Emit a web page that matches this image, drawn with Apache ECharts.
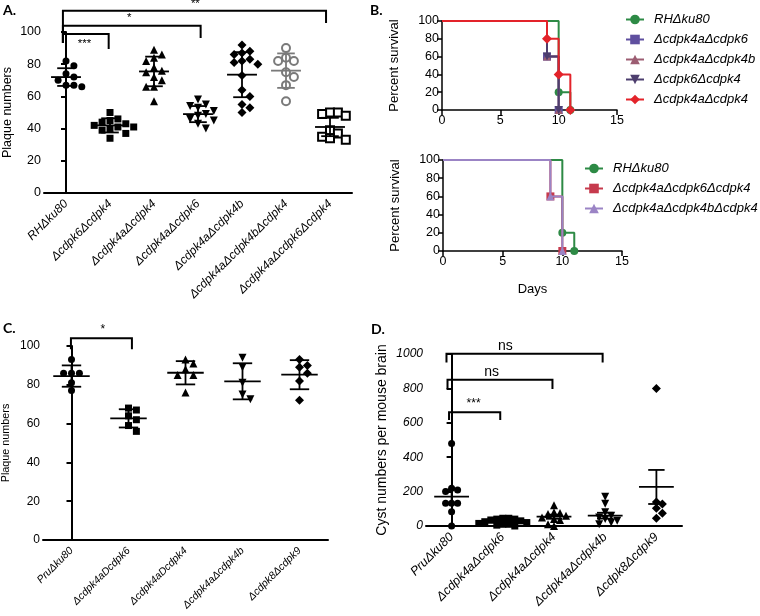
<!DOCTYPE html>
<html><head><meta charset="utf-8">
<script src="https://cdn.jsdelivr.net/npm/echarts@6/dist/echarts.min.js"></script>
<style>html,body{margin:0;padding:0;background:#fff}#c{width:760px;height:616px}</style>
</head><body><div id="c"></div>
<script>
// ---------- DATA ----------
// Panel A: plaque numbers
const catsA = ['RHΔku80','Δcdpk6Δcdpk4','Δcdpk4aΔcdpk4','Δcdpk4aΔcdpk6','Δcdpk4aΔcdpk4b','Δcdpk4aΔcdpk4bΔcdpk4','Δcdpk4aΔcdpk6Δcdpk4'];
const valsA = [
  [82,79,74,72,70,67,67,66],
  [50,46,45,44,43,42,41,41,40,39,37,34],
  [89,86,84,82,78,76,75,72,70,66,66,57],
  [58,55,54,53,51,49,48,46,45,43,40],
  [92,88,87,86,83,82,81,80,73,64,60,55,53,50],
  [90,84,82,82,75,72,67,57],
  [50,50,49,48,39,37,35,34,33]
];
const meanA = [72,42,75.5,49,73.5,76,41];
const errA  = [5.5,4.4,9.2,5,14,10.7,5.7];
// brackets: [x1, x2, top, leftLeg, rightLeg, label, labelX, labelY]
const bracketsA = [
  [-0.07,0.97,98.8,93.2,89.4,'***',0.42,92.6],
  [-0.07,3.06,103.9,93.2,96.3,'*',1.44,108.5],
  [-0.07,5.91,113.2,93.2,105.6,'**',2.94,117.6]
];

// Panel B: survival (days, percent)
const namesBt = ['RHΔku80','Δcdpk4aΔcdpk6','Δcdpk4aΔcdpk4b','Δcdpk6Δcdpk4','Δcdpk4aΔcdpk4'];
const survBt = [
  [[0,100],[10,20],[11,0]],
  [[0,100],[9,60],[10,0]],
  [[0,100],[9,60],[10,0]],
  [[0,100],[9,60],[10,0]],
  [[0,100],[9,80],[10,40],[11,0]]
];
const namesBb = ['RHΔku80','Δcdpk4aΔcdpk6Δcdpk4','Δcdpk4aΔcdpk4bΔcdpk4'];
const survBb = [
  [[0,100],[10,20],[11,0]],
  [[0,100],[9,60],[10,0]],
  [[0,100],[9,60],[10,0]]
];

// Panel C: plaque numbers
const catsC = ['PruΔku80','Δcdpk4aDcdpk6','Δcdpk4aDcdpk4','Δcdpk4aΔcdpk4b','Δcdpk8Δcdpk9'];
const valsC = [
  [93,86,86,86,81,77],
  [68,67,64,62,59,56],
  [93,91,88,85,85,76],
  [94,89,81,75,72.5],
  [93,90,89,86,82,72]
];
const meanC = [84.5,62.7,86.2,81.8,85.2];
const errC  = [5.5,4.7,6,9.3,7.5];
const bracketsC = [[-0.01,1.06,104,98.3,98.3,'*',0.55,108.6]];

// Panel D: cyst numbers per mouse brain
const catsD = ['PruΔku80','Δcdpk4aΔcdpk6','Δcdpk4aΔcdpk4','Δcdpk4aΔcdpk4b','Δcdpk8Δcdpk9'];
const valsD = [
  [480,219,210,200,132,132,132,83,0],
  [45,45,40,40,35,30,25,20,15,10,10,5,0],
  [120,80,75,70,60,50,40,35,10,0],
  [170,130,80,60,50,40,30,20,10],
  [800,140,128,103,74,45]
];
const meanD = [171,20,54,60,227];
const errD  = [40,6,12,17,99];
const bracketsD = [
  [-0.05,0.95,662,617,617,'***',0.43,709],
  [-0.08,1.97,850,796,796,'ns',0.78,895],
  [-0.1,2.95,1002,951,951,'ns',1.05,1048]
];

// ---------- LAYOUT / STYLE ----------
const FF = 'Liberation Sans';
const G = {
  A:{left:40,top:32,width:312,height:161},
  Bt:{left:442,top:21,width:175,height:89},
  Bb:{left:443,top:160,width:179,height:91},
  C:{left:39,top:346,width:289,height:194},
  D:{left:426,top:354,width:256,height:172}
};
const symA = [['circle',0,'#000',7],['rect',0,'#000',7],['triangle',0,'#000',8],['triangle',180,'#000',8],['diamond',0,'#000',9],['emptyCircle',0,'#7a7a7a',8],['emptyRect',0,'#000',8]];
const symCD = [['circle',0,'#000',7],['rect',0,'#000',7],['triangle',0,'#000',8],['triangle',180,'#000',8],['diamond',0,'#000',9]];

function swarm(vals, yPx, catPx, step, thr){
  const placed=[], out=[];
  vals.forEach(v=>{
    const y=v*yPx; let off=0;
    for(let t=0;t<60;t++){
      const c = t===0?0:(t%2?1:-1)*Math.ceil(t/2)*step;
      if(placed.every(p=>Math.hypot(p[0]-c,p[1]-y)>=thr)){off=c;break;}
    }
    placed.push([off,y]); out.push(off/catPx);
  });
  return out;
}

const xAxes=[], yAxes=[], series=[];
function catAxis(gi,cats,fs){
  return {type:'category',gridIndex:gi,data:cats,boundaryGap:true,
    axisLine:{lineStyle:{color:'#000',width:2}},
    axisTick:{alignWithLabel:true,length:5,lineStyle:{color:'#000',width:2}},
    axisLabel:{rotate:45,interval:0,fontStyle:'italic',fontSize:fs,color:'#000',margin:9,fontFamily:FF},
    splitLine:{show:false}};
}
function hidX(gi,n){return {type:'value',gridIndex:gi,min:-0.5,max:n-0.5,show:false};}
function valY(gi,max,interval,name,gap,fs,nfs,italic,lw){
  return {type:'value',gridIndex:gi,min:0,max:max,interval:interval,name:name,nameLocation:'middle',nameGap:gap,nameRotate:90,
    nameTextStyle:{fontSize:nfs,color:'#000',fontFamily:FF},
    axisLine:{show:true,lineStyle:{color:'#000',width:lw}},
    axisTick:{show:true,length:5,lineStyle:{color:'#000',width:lw}},
    axisLabel:{fontSize:fs,color:'#000',margin:3,fontFamily:FF,fontStyle:italic?'italic':'normal',formatter:v=>String(v)},
    splitLine:{show:false}};
}

function dotPanel(gi, cats, vals, mean, err, br, syms, xCat, xHid, yIdx, yMax, step, thr, capW, meanW, colors, bfs){
  const g = Object.values(G)[gi];
  const yPx = g.height/yMax, catPx = g.width/cats.length;
  vals.forEach((arr,i)=>{
    const offs = swarm(arr,yPx,catPx,step,thr);
    const s = syms[i];
    const empty = s[0].indexOf('empty')===0;
    series.push({type:'scatter',xAxisIndex:xHid,yAxisIndex:yIdx,silent:true,clip:false,
      symbol:s[0],symbolRotate:s[1],symbolSize:s[3],
      itemStyle:{color:s[2],borderColor:s[2],borderWidth:empty?1.6:0,opacity:1},
      data:arr.map((v,j)=>[i+offs[j],v]), z:3});
  });
  series.push({type:'custom',xAxisIndex:xHid,yAxisIndex:yIdx,silent:true,z:4,
    data:mean.map((m,i)=>[i,m,err[i]]),
    renderItem:(p,api)=>{
      const i=api.value(0), m=api.value(1), e=api.value(2);
      const col = (colors&&colors[i])||'#000';
      const st={stroke:col,lineWidth:1.8};
      const L=(a,b)=>({type:'line',shape:{x1:a[0],y1:a[1],x2:b[0],y2:b[1]},style:st});
      return {type:'group',children:[
        L(api.coord([i-meanW,m]),api.coord([i+meanW,m])),
        L(api.coord([i,m-e]),api.coord([i,m+e])),
        L(api.coord([i-capW,m+e]),api.coord([i+capW,m+e])),
        L(api.coord([i-capW,m-e]),api.coord([i+capW,m-e]))
      ]};
    }});
  series.push({type:'custom',xAxisIndex:xHid,yAxisIndex:yIdx,silent:true,z:4,
    data:br.map(b=>[b[0],b[2]]),
    renderItem:(p,api)=>{
      const b=br[p.dataIndex];
      const pts=[api.coord([b[0],b[3]]),api.coord([b[0],b[2]]),api.coord([b[1],b[2]]),api.coord([b[1],b[4]])];
      const t=api.coord([b[6],b[7]]);
      return {type:'group',children:[
        {type:'polyline',shape:{points:pts},style:{stroke:'#000',lineWidth:2,fill:null}},
        {type:'text',x:t[0],y:t[1],style:{text:b[5],fontSize:b[5]==='ns'?bfs+2:bfs,fill:'#000',fontFamily:FF,align:'center',verticalAlign:'middle'}}
      ]};
    }});
}

// axes
xAxes.push(catAxis(0,catsA,12));     //0
xAxes.push(hidX(0,catsA.length));    //1
const bAx=(gi,name)=>({type:'value',gridIndex:gi,min:0,max:15,interval:5,name:name,nameLocation:'middle',nameGap:32,
  nameTextStyle:{fontSize:13,color:'#000',fontFamily:FF},
  axisLine:{lineStyle:{color:'#000',width:1.5}},axisTick:{length:5,lineStyle:{color:'#000',width:1.5}},
  axisLabel:{fontSize:12.5,color:'#000',margin:4,fontFamily:FF},splitLine:{show:false}});
xAxes.push(bAx(1,''));               //2
xAxes.push(bAx(2,'Days'));           //3
xAxes.push(catAxis(3,catsC,10.5));   //4
xAxes.push(hidX(3,catsC.length));    //5
xAxes.push(catAxis(4,catsD,12.5));   //6
xAxes.push(hidX(4,catsD.length));    //7

yAxes.push(valY(0,100,20,'Plaque numbers',30,12.5,12.5,false,2));
yAxes.push(valY(1,100,20,'Percent survival',41,12.5,13,false,1.5));
yAxes.push(valY(2,100,20,'Percent survival',41,12.5,13,false,1.5));
yAxes.push(valY(3,100,20,'Plaque numbers',31,12,10.8,false,2));
yAxes.push(valY(4,1000,200,'Cyst numbers per mouse brain',37,12,14,true,2));

dotPanel(0,catsA,valsA,meanA,errA,bracketsA,symA,0,1,0,100,8,7.6,0.2,0.34,[0,0,0,0,0,'#7a7a7a',0],11.5);
dotPanel(3,catsC,valsC,meanC,errC,bracketsC,symCD,4,5,3,100,8,7.6,0.17,0.32,null,12);
dotPanel(4,catsD,valsD,meanD,errD,bracketsD,symCD,6,7,4,1000,6,6,0.16,0.34,null,12);

// survival
const colBt=['#2d8a45','#5f4f9f','#9c5d72','#4d3e6e','#e3232a'];
const symBt=[['circle',0],['rect',0],['triangle',0],['triangle',180],['diamond',0]];
const colBb=['#2d8a45','#c63a4d','#9b84c5'];
const symBb=[['circle',0],['rect',0],['triangle',0]];
function survSeries(names,data,cols,syms,xi,yi){
  names.forEach((n,i)=>{
    series.push({type:'line',name:n,xAxisIndex:xi,yAxisIndex:yi,step:'end',clip:false,silent:true,
      symbol:syms[i][0],symbolRotate:syms[i][1],symbolSize:syms[i][0]==='diamond'?10:8,
      lineStyle:{color:cols[i],width:2},itemStyle:{color:cols[i]},
      data:data[i].map((p,k)=>k===0?{value:p,symbol:'none'}:p),z:2+i*0.01});
  });
}
survSeries(namesBt,survBt,colBt,symBt,2,1);
survSeries(namesBb,survBb,colBb,symBb,3,2);

const legendBase = {orient:'vertical',selectedMode:false,itemWidth:18,itemHeight:12,itemGap:7,
  textStyle:{fontSize:13,fontStyle:'italic',color:'#000',fontFamily:FF,padding:[0,0,0,5]}};

const chart = echarts.init(document.getElementById('c'),null,{renderer:'canvas'});
chart.setOption({
  animation:false,backgroundColor:'#fff',
  textStyle:{fontFamily:FF},
  grid:[G.A,G.Bt,G.Bb,G.C,G.D].map(g=>Object.assign({containLabel:false},g)),
  xAxis:xAxes,yAxis:yAxes,
  legend:[
    Object.assign({},legendBase,{left:620,top:8,data:namesBt}),
    Object.assign({},legendBase,{left:579,top:157,data:namesBb})
  ],
  graphic:[
    {type:'text',left:3,top:3,style:{text:'A.',font:"bold 14px Lato",fill:'#000'}},
    {type:'text',left:370,top:3,style:{text:'B.',font:"bold 14px Lato",fill:'#000'}},
    {type:'text',left:3,top:321,style:{text:'C.',font:"bold 14px Lato",fill:'#000'}},
    {type:'text',left:371,top:322,style:{text:'D.',font:"bold 14px Lato",fill:'#000'}}
  ],
  series:series
});
</script></body></html>
